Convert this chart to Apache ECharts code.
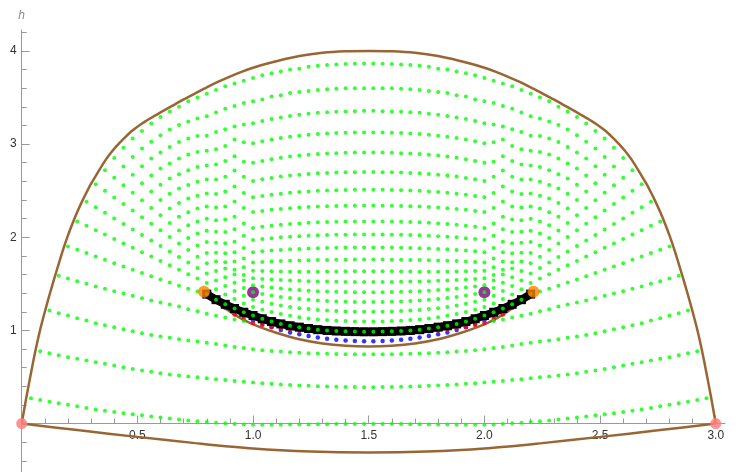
<!DOCTYPE html>
<html>
<head>
<meta charset="utf-8">
<script src="https://cdn.jsdelivr.net/npm/echarts@6/dist/echarts.min.js"></script>
<style>
  html, body { margin: 0; padding: 0; background: #ffffff; }
  #chart { width: 738px; height: 472px; }
</style>
</head>
<body>
<div id="chart"></div>
<script>
// Dotted level rows are sampled on fixed columns x = colStep * column
const colStep = 0.04;

// ---- outer boundary (brown) ----
const outerX = [0,.02,.04,.06,.08,.10,.12,.14,.16,.18,.20,.22,.24,.26,.28,.30,.33,.36,.39,.42,.45,.48,.52,.56,.60,.65,.70,.75,.80,.85,.90,.95,1.0,1.05,1.1,1.2,1.3,1.4,1.5,
  1.6,1.7,1.8,1.9,1.95,2.0,2.05,2.1,2.15,2.2,2.25,2.3,2.35,2.4,2.44,2.48,2.52,2.55,2.58,2.61,2.64,2.67,2.70,2.72,2.74,2.76,2.78,2.80,2.82,2.84,2.86,2.88,2.90,2.92,2.94,2.96,2.98,3.0];
const outerH = [0,.28,.54,.79,1.01,1.20,1.38,1.55,1.715,1.875,2.02,2.15,2.27,2.38,2.48,2.575,2.70,2.82,2.92,3.005,3.08,3.148,3.222,3.283,3.34,3.41,3.48,3.545,3.61,3.67,3.725,3.775,3.82,3.858,3.89,3.945,3.98,3.996,4.0,
  3.996,3.98,3.945,3.89,3.858,3.82,3.775,3.725,3.67,3.61,3.545,3.48,3.41,3.34,3.283,3.222,3.148,3.08,3.005,2.92,2.82,2.70,2.575,2.48,2.38,2.27,2.15,2.02,1.875,1.715,1.55,1.38,1.20,1.01,.79,.54,.28,0];

// ---- lower boundary (brown) ----
const bottomX = [0,.25,.5,.75,1,1.25,1.5,1.75,2,2.25,2.5,2.75,3];
const bottomH = [0,-.073,-.143,-.21,-.268,-.3,-.31,-.3,-.268,-.21,-.143,-.073,0];

// ---- inner arc (brown) ----
const innerX = [.79,.83,.87,.92,.97,1.03,1.1,1.2,1.3,1.4,1.5,1.6,1.7,1.8,1.9,1.97,2.03,2.08,2.13,2.17,2.21];
const innerH = [1.41,1.33,1.255,1.17,1.10,1.035,.975,.905,.86,.835,.827,.835,.86,.905,.975,1.035,1.10,1.17,1.255,1.33,1.41];

// ---- black curve, columns 20..55 ----
const blackStart = 20;
const blackH = [1.39,1.33,1.28,1.235,1.195,1.16,1.125,1.095,1.07,1.05,1.035,1.02,1.008,1.0,.994,.99,.987,.985,
  .985,.987,.99,.994,1.0,1.008,1.02,1.035,1.05,1.07,1.095,1.125,1.16,1.195,1.235,1.28,1.33,1.39];

// ---- red dots, columns 21..54 ----
const redStart = 21;
const redH = [1.32,1.24,1.17,1.115,1.08,1.058,1.04,1.025,1.012,1.0,.99,.982,.975,.97,.967,.965,.965,
  .965,.965,.967,.97,.975,.982,.99,1.0,1.012,1.025,1.04,1.058,1.08,1.115,1.17,1.24,1.32];

// ---- blue dots, columns 22..53 ----
const blueStart = 22;
const blueH = [1.27,1.205,1.153,1.108,1.07,1.035,1.004,.978,.958,.940,.924,.910,.900,.892,.887,.884,
  .884,.887,.892,.900,.910,.924,.940,.958,.978,1.004,1.035,1.07,1.108,1.153,1.205,1.27];

// ---- green rows below the arc (heights per column) ----
const rowA = [.272,.252,.233,.217,.202,.186,.167,.152,.138,.124,.112,.099,.088,.077,.066,.055,.044,.034,.024,.016,.010,.003,-.004,-.009,-.012,-.013,-.013,-.012,-.011,-.010,-.009,-.008,-.007,-.006,-.006,-.005,-.005,
  -.005,-.005,-.006,-.006,-.007,-.008,-.009,-.010,-.011,-.012,-.013,-.013,-.012,-.009,-.004,.003,.010,.016,.024,.034,.044,.055,.066,.077,.088,.099,.112,.124,.138,.152,.167,.186,.202,.217,.233,.252,.272];
const rowB = [.777,.756,.734,.713,.695,.677,.659,.641,.623,.605,.587,.570,.555,.541,.527,.515,.505,.496,.487,.477,.467,.458,.449,.441,.434,.427,.420,.414,.409,.405,.401,.398,.395,.393,.392,.391,
  .391,.392,.393,.395,.398,.401,.405,.409,.414,.420,.427,.434,.441,.449,.458,.467,.477,.487,.496,.505,.515,.527,.541,.555,.570,.587,.605,.623,.641,.659,.677,.695,.713,.734,.756,.777];
const rowC = [1.213,1.185,1.160,1.131,1.106,1.078,1.056,1.035,1.013,.992,.970,.952,.934,.920,.906,.893,.882,.868,.853,.838,.823,.810,.798,.788,.780,.773,.766,.760,.756,.752,.749,.747,.745,.744,.744,
  .744,.744,.745,.747,.749,.752,.756,.760,.766,.773,.780,.788,.798,.810,.823,.838,.853,.868,.882,.893,.906,.920,.934,.952,.970,.992,1.013,1.035,1.056,1.078,1.106,1.131,1.160,1.185,1.213];
const rowDL = [1.586,1.557,1.529,1.500,1.471,1.446,1.421,1.396,1.371,1.346,1.320,1.299,1.278,1.256,1.228,1.205,1.180,1.158,1.138,1.118,1.100];
const rowDR = [1.100,1.118,1.138,1.158,1.180,1.205,1.228,1.256,1.278,1.299,1.320,1.346,1.371,1.396,1.421,1.446,1.471,1.500,1.529,1.557,1.586];

// ---- green rows above the arc: left half (from first column) and right half (from column 38) ----
const rowEL = [1.90,1.865,1.83,1.794,1.758,1.722,1.687,1.651,1.616,1.581,1.547,1.513,1.479,1.447,1.417,1.39,1.33,1.28,1.235,1.195,1.16,1.125,1.095,1.07,1.05,1.035,1.02,1.008,1.0,.994,.99,.987,.985];
const rowER = [.985,.987,.99,.994,1.0,1.008,1.02,1.035,1.05,1.07,1.095,1.125,1.16,1.195,1.235,1.28,1.33,1.39,1.417,1.447,1.479,1.513,1.547,1.581,1.616,1.651,1.687,1.722,1.758,1.794,1.83,1.865,1.90];
const row06L = [2.17,2.123,2.076,2.029,1.981,1.934,1.887,1.84,1.793,1.746,1.699,1.651,1.604,1.557,1.51,1.442,1.385,1.336,1.289,1.25,1.222,1.197,1.176,1.157,1.142,1.129,1.118,1.111,1.104,1.1,1.097,1.095];
const row06R = [1.095,1.097,1.1,1.104,1.111,1.118,1.129,1.142,1.157,1.176,1.197,1.222,1.25,1.289,1.336,1.385,1.442,1.51,1.557,1.604,1.651,1.699,1.746,1.793,1.84,1.887,1.934,1.981,2.029,2.076,2.123,2.17];
const row07L = [2.38,2.321,2.262,2.202,2.143,2.084,2.025,1.965,1.906,1.847,1.788,1.728,1.669,1.61,1.537,1.476,1.422,1.372,1.33,1.307,1.286,1.268,1.252,1.239,1.229,1.22,1.213,1.208,1.204,1.201,1.2];
const row07R = [1.2,1.201,1.204,1.208,1.213,1.22,1.229,1.239,1.252,1.268,1.286,1.307,1.33,1.372,1.422,1.476,1.537,1.61,1.669,1.728,1.788,1.847,1.906,1.965,2.025,2.084,2.143,2.202,2.262,2.321,2.38];
const row08L = [2.57,2.499,2.428,2.358,2.287,2.216,2.145,2.074,2.003,1.933,1.862,1.791,1.72,1.639,1.571,1.512,1.456,1.41,1.391,1.374,1.36,1.347,1.337,1.328,1.321,1.316,1.311,1.308,1.306,1.305];
const row08R = [1.305,1.306,1.308,1.311,1.316,1.321,1.328,1.337,1.347,1.36,1.374,1.391,1.41,1.456,1.512,1.571,1.639,1.72,1.791,1.862,1.933,2.003,2.074,2.145,2.216,2.287,2.358,2.428,2.499,2.57];
const row09L = [2.72,2.639,2.558,2.477,2.396,2.315,2.235,2.154,2.073,1.992,1.911,1.83,1.74,1.664,1.599,1.537,1.485,1.472,1.46,1.449,1.44,1.433,1.427,1.421,1.418,1.415,1.413,1.411,1.41];
const row09R = [1.41,1.411,1.413,1.415,1.418,1.421,1.427,1.433,1.44,1.449,1.46,1.472,1.485,1.537,1.599,1.664,1.74,1.83,1.911,1.992,2.073,2.154,2.235,2.315,2.396,2.477,2.558,2.639,2.72];
const row10L = [2.85,2.76,2.67,2.58,2.49,2.4,2.31,2.22,2.13,2.04,1.95,1.833,1.732,1.65,1.595,1.56,1.553,1.546,1.541,1.536,1.532,1.529,1.526,1.524,1.522,1.521,1.52,1.52];
const row10R = [1.52,1.52,1.521,1.522,1.524,1.526,1.529,1.532,1.536,1.541,1.546,1.553,1.56,1.595,1.65,1.732,1.833,1.95,2.04,2.13,2.22,2.31,2.4,2.49,2.58,2.67,2.76,2.85];
const row11L = [2.96,2.861,2.762,2.663,2.564,2.466,2.367,2.268,2.169,2.07,1.941,1.829,1.739,1.679,1.64,1.637,1.634,1.632,1.631,1.63,1.63,1.631,1.632,1.633,1.634,1.635,1.635];
const row11R = [1.635,1.635,1.634,1.633,1.632,1.631,1.63,1.63,1.631,1.632,1.634,1.637,1.64,1.679,1.739,1.829,1.941,2.07,2.169,2.268,2.367,2.466,2.564,2.663,2.762,2.861,2.96];
const row12L = [3.06,2.953,2.845,2.738,2.63,2.523,2.415,2.308,2.2,2.059,1.937,1.838,1.772,1.73,1.735,1.74,1.744,1.748,1.751,1.753,1.756,1.757,1.758,1.759,1.76,1.76];
const row12R = [1.76,1.76,1.759,1.758,1.757,1.756,1.753,1.751,1.748,1.744,1.74,1.735,1.73,1.772,1.838,1.937,2.059,2.2,2.308,2.415,2.523,2.63,2.738,2.845,2.953,3.06];
const row13L = [3.14,3.024,2.909,2.793,2.677,2.561,2.446,2.33,2.183,2.056,1.953,1.884,1.84,1.849,1.857,1.864,1.87,1.875,1.879,1.883,1.885,1.887,1.889,1.89,1.89];
const row13R = [1.89,1.89,1.889,1.887,1.885,1.883,1.879,1.875,1.87,1.864,1.857,1.849,1.84,1.884,1.953,2.056,2.183,2.33,2.446,2.561,2.677,2.793,2.909,3.024,3.14];
const row14L = [3.22,3.095,2.97,2.845,2.72,2.595,2.47,2.32,2.19,2.085,2.015,1.97,1.981,1.99,1.999,2.006,2.012,2.017,2.021,2.024,2.026,2.028,2.029,2.03];
const row14R = [2.03,2.029,2.028,2.026,2.024,2.021,2.017,2.012,2.006,1.999,1.99,1.981,1.97,2.015,2.085,2.19,2.32,2.47,2.595,2.72,2.845,2.97,3.095,3.22];
const row15L = [3.29,3.156,3.022,2.888,2.754,2.62,2.464,2.329,2.22,2.147,2.1,2.113,2.124,2.134,2.142,2.149,2.155,2.16,2.163,2.166,2.168,2.169,2.17];
const row15R = [2.17,2.169,2.168,2.166,2.163,2.16,2.155,2.149,2.142,2.134,2.124,2.113,2.1,2.147,2.22,2.329,2.464,2.62,2.754,2.888,3.022,3.156,3.29];
const row16L = [3.35,3.205,3.06,2.915,2.77,2.62,2.49,2.385,2.315,2.27,2.283,2.294,2.304,2.312,2.319,2.325,2.33,2.333,2.336,2.338,2.339,2.34];
const row16R = [2.34,2.339,2.338,2.336,2.333,2.33,2.325,2.319,2.312,2.304,2.294,2.283,2.27,2.315,2.385,2.49,2.62,2.77,2.915,3.06,3.205,3.35];
const row17L = [3.4,3.243,3.087,2.93,2.78,2.65,2.545,2.475,2.43,2.444,2.457,2.468,2.478,2.486,2.492,2.498,2.502,2.505,2.508,2.509,2.51];
const row17R = [2.51,2.509,2.508,2.505,2.502,2.498,2.492,2.486,2.478,2.468,2.457,2.444,2.43,2.475,2.545,2.65,2.78,2.93,3.087,3.243,3.4];
const row18L = [3.46,3.275,3.09,2.944,2.818,2.717,2.649,2.605,2.622,2.637,2.651,2.662,2.672,2.679,2.686,2.691,2.694,2.697,2.699,2.7];
const row18R = [2.7,2.699,2.697,2.694,2.691,2.686,2.679,2.672,2.662,2.651,2.637,2.622,2.605,2.649,2.717,2.818,2.944,3.09,3.275,3.46];
const row19L = [3.5,3.3,3.13,2.98,2.87,2.81,2.8,2.82,2.837,2.853,2.866,2.877,2.886,2.894,2.899,2.903,2.907,2.909,2.91];
const row19R = [2.91,2.909,2.907,2.903,2.899,2.894,2.886,2.877,2.866,2.853,2.837,2.82,2.8,2.81,2.87,2.98,3.13,3.3,3.5];
const row20L = [3.54,3.34,3.16,3.05,3.02,3.01,3.031,3.049,3.065,3.079,3.091,3.1,3.108,3.114,3.118,3.122,3.124,3.125];
const row20R = [3.125,3.124,3.122,3.118,3.114,3.108,3.1,3.091,3.079,3.065,3.049,3.031,3.01,3.02,3.05,3.16,3.34,3.54];
const row21L = [3.58,3.38,3.19,3.21,3.225,3.248,3.269,3.287,3.303,3.316,3.326,3.336,3.342,3.347,3.351,3.354,3.357];
const row21R = [3.357,3.354,3.351,3.347,3.342,3.336,3.326,3.316,3.303,3.287,3.269,3.248,3.225,3.21,3.19,3.38,3.58];
const row22L = [3.62,3.41,3.44,3.46,3.48,3.51,3.525,3.55,3.56,3.57,3.58,3.59,3.595,3.6,3.6,3.6];
const row22R = [3.6,3.6,3.6,3.595,3.59,3.58,3.57,3.56,3.55,3.525,3.51,3.48,3.46,3.44,3.41,3.62];
const row23L = [3.65,3.68,3.71,3.74,3.76,3.78,3.8,3.81,3.83,3.84,3.85,3.854,3.86,3.862,3.865];
const row23R = [3.865,3.862,3.86,3.854,3.85,3.84,3.83,3.81,3.8,3.78,3.76,3.74,3.71,3.68,3.65];

// first column of each dotted segment
const greenSegments = [
  [1, rowA], [2, rowB], [3, rowC], [4, rowDL], [51, rowDR],
  [5, rowEL], [38, rowER],
  [6, row06L], [38, row06R], [7, row07L], [38, row07R], [8, row08L], [38, row08R],
  [9, row09L], [38, row09R], [10, row10L], [38, row10R], [11, row11L], [38, row11R],
  [12, row12L], [38, row12R], [13, row13L], [38, row13R], [14, row14L], [38, row14R],
  [15, row15L], [38, row15R], [16, row16L], [38, row16R], [17, row17L], [38, row17R],
  [18, row18L], [38, row18R], [19, row19L], [38, row19R], [20, row20L], [38, row20R],
  [21, row21L], [38, row21R], [22, row22L], [38, row22R], [23, row23L], [38, row23R]
];

// ---- marked points ----
const orangeX = [0.788, 2.212], orangeH = [1.415, 1.415];
const purpleX = [1.0, 2.0], purpleH = [1.41, 1.41];
const pinkX = [0, 3], pinkH = [0, 0];

// ---- axis ticks ----
const xMajor = [0.5, 1.0, 1.5, 2.0, 2.5, 3.0];
const xMinor = [0.1,0.2,0.3,0.4,0.6,0.7,0.8,0.9,1.1,1.2,1.3,1.4,1.6,1.7,1.8,1.9,2.1,2.2,2.3,2.4,2.6,2.7,2.8,2.9];
const yMajor = [1, 2, 3, 4];
const yMinor = [-0.4,-0.2,0.2,0.4,0.6,0.8,1.2,1.4,1.6,1.8,2.2,2.4,2.6,2.8,3.2,3.4,3.6,3.8,4.2];

const X_MIN = 0, X_MAX = 3.04, Y_MIN = -0.52, Y_MAX = 4.225;
const GRID_TOP = 30, GRID_H = 442;
// lift the horizontal axis from the grid bottom up to h = 0
const xAxisOffset = -(0 - Y_MIN) / (Y_MAX - Y_MIN) * GRID_H;

function zipXY(xs, hs) { return xs.map((x, i) => [x, hs[i]]); }
function colPoints(start, hs) { return hs.map((h, i) => [+(colStep * (start + i)).toFixed(4), h]); }

const greenData = [];
greenSegments.forEach(([start, hs]) => { colPoints(start, hs).forEach(p => greenData.push(p)); });

const axisGray = '#9a9a9a';
const labelColor = '#333333';
const font = 'Liberation Sans, Arial, sans-serif';

const chart = echarts.init(document.getElementById('chart'), null, { renderer: 'canvas' });
chart.setOption({
  animation: false,
  backgroundColor: '#ffffff',
  grid: { left: 21.7, right: 13, top: GRID_TOP, height: GRID_H, containLabel: false, outerBoundsMode: 'none' },
  xAxis: [
    {
      type: 'value', min: X_MIN, max: X_MAX, position: 'bottom', offset: xAxisOffset,
      axisLine: { onZero: false, lineStyle: { color: axisGray, width: 1 } },
      axisTick: { show: true, inside: true, length: 8, customValues: xMajor, lineStyle: { color: axisGray } },
      axisLabel: { customValues: xMajor, formatter: v => v.toFixed(1), color: labelColor, fontSize: 12,
                   fontFamily: font, margin: 6 },
      splitLine: { show: false }
    },
    {
      type: 'value', min: X_MIN, max: X_MAX, position: 'bottom', offset: xAxisOffset,
      axisLine: { show: false, onZero: false },
      axisTick: { show: true, inside: true, length: 5, customValues: xMinor, lineStyle: { color: axisGray } },
      axisLabel: { show: false },
      splitLine: { show: false }
    }
  ],
  yAxis: [
    {
      type: 'value', min: Y_MIN, max: Y_MAX, position: 'left',
      name: 'h', nameLocation: 'end', nameGap: 8,
      nameTextStyle: { color: '#8a8a8a', fontStyle: 'italic', fontSize: 12, fontFamily: font },
      axisLine: { onZero: false, lineStyle: { color: axisGray, width: 1 } },
      axisTick: { show: true, inside: true, length: 8, customValues: yMajor, lineStyle: { color: axisGray } },
      axisLabel: { customValues: yMajor, color: labelColor, fontSize: 12, fontFamily: font, margin: 5 },
      splitLine: { show: false }
    },
    {
      type: 'value', min: Y_MIN, max: Y_MAX, position: 'left', offset: 0,
      axisLine: { show: false, onZero: false },
      axisTick: { show: true, inside: true, length: 5, customValues: yMinor, lineStyle: { color: axisGray } },
      axisLabel: { show: false },
      splitLine: { show: false }
    }
  ],
  series: [
    { type: 'line', data: zipXY(bottomX, bottomH), smooth: 0.3, showSymbol: false,
      lineStyle: { color: '#996633', width: 2.5 }, z: 3 },
    { type: 'line', data: zipXY(outerX, outerH), smooth: 0.25, showSymbol: false,
      lineStyle: { color: '#996633', width: 2.5 }, z: 3 },
    { type: 'line', data: zipXY(innerX, innerH), smooth: 0.3, showSymbol: false,
      lineStyle: { color: '#996633', width: 2.5 }, z: 3 },
    { type: 'scatter', data: colPoints(blueStart, blueH), symbolSize: 4.5,
      itemStyle: { color: '#0000ff' }, z: 4 },
    { type: 'scatter', data: colPoints(redStart, redH), symbolSize: 4.5,
      itemStyle: { color: '#ff0000' }, z: 4 },
    { type: 'line', data: colPoints(blackStart, blackH), smooth: 0.3, showSymbol: true,
      symbol: 'rect', symbolSize: 9, itemStyle: { color: '#000000' },
      lineStyle: { color: '#000000', width: 8 }, z: 5 },
    { type: 'scatter', data: zipXY(purpleX, purpleH), symbolSize: 12,
      itemStyle: { color: '#800080' }, z: 6 },
    { type: 'scatter', data: greenData, symbolSize: 4,
      itemStyle: { color: '#00ff00' }, z: 7 },
    { type: 'scatter', data: zipXY(orangeX, orangeH), symbolSize: 12,
      itemStyle: { color: '#ff8000' }, z: 8 },
    { type: 'scatter', data: zipXY(pinkX, pinkH), symbolSize: 11,
      itemStyle: { color: '#ff7f7f', opacity: 0.85 }, z: 9 }
  ]
});
</script>
</body>
</html>
